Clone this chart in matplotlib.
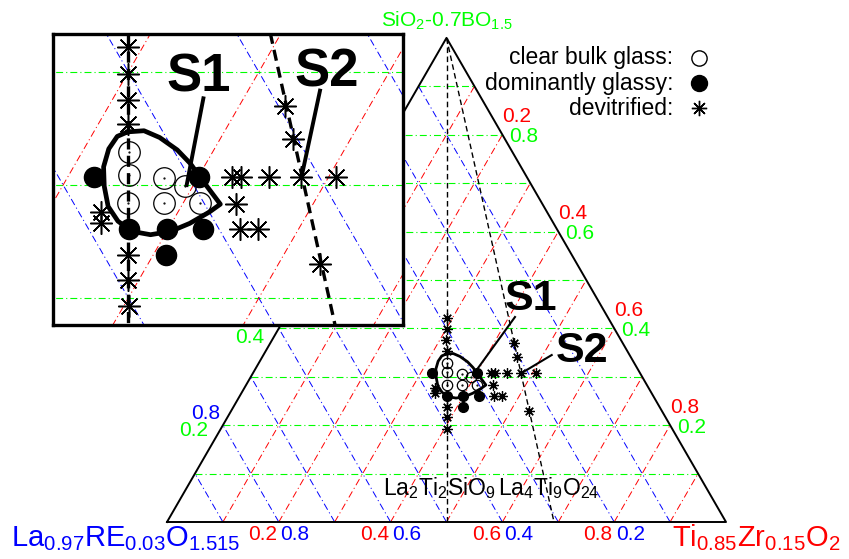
import numpy as np
import matplotlib
matplotlib.use("Agg")
import matplotlib.pyplot as plt

plt.rcParams['font.family'] = ['Liberation Sans', 'DejaVu Sans']
plt.rcParams['mathtext.fontset'] = 'custom'
plt.rcParams['mathtext.rm'] = 'Liberation Sans'
plt.rcParams['mathtext.it'] = 'Liberation Sans:italic'
plt.rcParams['mathtext.bf'] = 'Liberation Sans:bold'
plt.rcParams['mathtext.default'] = 'regular'
plt.rcParams['lines.scale_dashes'] = False

# compositions as molar fractions (Ti, Si), La = 1 - Ti - Si
clear_ti = [0.336, 0.346, 0.358, 0.374, 0.385, 0.394, 0.413]
clear_si = [0.329, 0.309, 0.284, 0.306, 0.284, 0.299, 0.284]

glassy_ti = [0.320, 0.401, 0.370, 0.399, 0.427, 0.410]
glassy_si = [0.307, 0.307, 0.261, 0.261, 0.261, 0.238]

devit_ti = [0.289, 0.301, 0.312, 0.323, 0.381, 0.392, 0.404, 0.341, 0.346,
            0.426, 0.433, 0.454, 0.479, 0.506, 0.441, 0.455, 0.469,
            0.435, 0.456, 0.532]
devit_si = [0.422, 0.398, 0.375, 0.354, 0.238, 0.216, 0.193, 0.276, 0.266,
            0.307, 0.307, 0.307, 0.307, 0.307, 0.283, 0.261, 0.261,
            0.370, 0.341, 0.230]

# boundary of the glass forming region
region_ti = [0.326, 0.338, 0.353, 0.372, 0.388, 0.406, 0.429, 0.424, 0.414, 0.403,
             0.389, 0.373, 0.358, 0.344, 0.332, 0.323, 0.319, 0.320, 0.326]
region_si = [0.347, 0.348, 0.342, 0.331, 0.319, 0.303, 0.283, 0.276, 0.266, 0.259,
             0.256, 0.259, 0.268, 0.281, 0.299, 0.316, 0.332, 0.343, 0.347]

# Ti/(La+Ti) of the two crystalline phases (joins to the SiO2 corner)
phase_ti = [0.5, 9 / 13]
grid_levels = [0.1, 0.2, 0.3, 0.4, 0.5, 0.6, 0.7, 0.8, 0.9]
tick_vals = [0.2, 0.4, 0.6, 0.8]

H = np.sqrt(3) / 2
GREEN, RED, BLUE = '#00ff00', '#ff0000', '#0000ff'
STAR = (8, 2, 0)
DASHDOT = (0, (5, 2.2, 0.8, 2.2))


def xy(ti, si):
    ti = np.asarray(ti, float)
    si = np.asarray(si, float)
    return ti + si / 2, si * H


def draw_content(a, scale, dash, curve_lw, ms_o, ms_f, ms_s, mew_s):
    for g in grid_levels:
        x, y = xy([0, 1 - g], [g, g])
        a.plot(x, y, color=GREEN, lw=0.8, ls=DASHDOT, zorder=1)
        x, y = xy([g, g], [0, 1 - g])
        a.plot(x, y, color=RED, lw=0.7, ls=DASHDOT, zorder=1)
        x, y = xy([1 - g, 0], [0, 1 - g])
        a.plot(x, y, color=BLUE, lw=0.7, ls=DASHDOT, zorder=1)
    for r in phase_ti:
        x, y = xy([0, r], [1, 0])
        a.plot(x, y, color='k', lw=1.0 * scale, ls=(0, dash), zorder=2)
    x, y = xy(region_ti, region_si)
    a.plot(x, y, color='k', lw=curve_lw, solid_joinstyle='round', zorder=3)
    x, y = xy(clear_ti, clear_si)
    a.plot(x, y, 'o', mfc='none', mec='k', ms=ms_o, mew=0.9, zorder=4)
    a.plot(x, y, '.', color='k', ms=1.2, zorder=4)
    x, y = xy(glassy_ti, glassy_si)
    a.plot(x, y, 'o', color='k', ms=ms_f, zorder=4)
    x, y = xy(devit_ti, devit_si)
    a.plot(x, y, ls='none', marker=STAR, color='k', ms=ms_s, mew=mew_s, zorder=4)


fig = plt.figure(figsize=(8.49, 5.59), dpi=100)
ax = fig.add_axes([0, 0, 1, 1])
ax.set_xlim(-167 / 559, 682 / 559)
ax.set_ylim(-37 / 559, 522 / 559)
ax.axis('off')

draw_content(ax, 1.0, (4, 2.5), 2.0, 7.5, 7.0, 7.5, 0.9)
ax.plot([0, 1, 0.5, 0], [0, 0, H, 0], color='k', lw=1.4, zorder=2)

# axis tick labels (left edge ones above 0.4 sit behind the inset)
for v in tick_vals:
    x, y = xy(0, v)
    if v <= 0.4:
        dy = -9 if v == 0.4 else -5
        ax.annotate(f'{v:.1f}', (x, y), xytext=(-15, dy), textcoords='offset pixels',
                    ha='right', va='center', color=GREEN, fontsize=15)
    if v <= 0.2:
        ax.annotate(f'{1 - v:.1f}', (x, y), xytext=(-3, 12), textcoords='offset pixels',
                    ha='right', va='center', color=BLUE, fontsize=15)
    x, y = xy(1 - v, v)
    ax.annotate(f'{v:.1f}', (x, y), xytext=(7, -2), textcoords='offset pixels',
                ha='left', va='center', color=GREEN, fontsize=15)
    ax.annotate(f'{1 - v:.1f}', (x, y), xytext=(0, 18), textcoords='offset pixels',
                ha='left', va='center', color=RED, fontsize=15)
    x, y = xy(v, 0)
    ax.annotate(f'{v:.1f}', (x, y), xytext=(-1.5, -12), textcoords='offset pixels',
                ha='right', va='center', color=RED, fontsize=15)
    ax.annotate(f'{1 - v:.1f}', (x, y), xytext=(1.5, -12), textcoords='offset pixels',
                ha='left', va='center', color=BLUE, fontsize=15)

ax.text(0.5, 0.8855, r'SiO$_2$-0.7BO$_{1.5}$', color=GREEN, fontsize=15,
        ha='center', va='baseline')
ax.text(-0.2791, -0.0429, r'La$_{0.97}$RE$_{0.03}$O$_{1.515}$', color=BLUE,
        fontsize=21, ha='left', va='baseline')
ax.text(1.2039, -0.0429, r'Ti$_{0.85}$Zr$_{0.15}$O$_2$', color=RED,
        fontsize=21, ha='right', va='baseline')
ax.text(0.3864, 0.048, r'La$_2$Ti$_2$SiO$_9$', fontsize=16.5, ha='left', va='baseline')
ax.text(0.5920, 0.048, r'La$_4$Ti$_9$O$_{24}$', fontsize=16.5, ha='left', va='baseline')

# legend
legend_rows = [('clear bulk glass:', 0.8301), ('dominantly glassy:', 0.7853),
               ('devitrified:', 0.7406)]
for label, ly in legend_rows:
    ax.text(0.9052, ly, label, fontsize=16.5, ha='right', va='center')
ax.plot(0.9517, 0.8301, 'o', mfc='none', mec='k', ms=11, mew=1.0)
ax.plot(0.9517, 0.7853, 'o', color='k', ms=11.5)
ax.plot(0.9517, 0.7406, marker=STAR, color='k', ms=11, mew=1.0)

# S1 / S2 labels
ax.text(0.6512, 0.3792, 'S1', fontsize=31, fontweight='bold', ha='center', va='baseline')
ax.text(0.7424, 0.2862, 'S2', fontsize=31, fontweight='bold', ha='center', va='baseline')
ax.plot([0.6225, 0.5474], [0.3667, 0.2630], color='k', lw=1.5, zorder=5)
ax.plot([0.6882, 0.6315], [0.2987, 0.2648], color='k', lw=1.5, zorder=5)

# zoomed inset
axi = fig.add_axes([52.7 / 849, 1 - 325 / 559, 350 / 849, 291 / 559])
axi.set_facecolor('white')
axi.set_xlim(0.442, 0.7103)
axi.set_ylim(0.1761 * H, 0.4336 * H)
axi.set_xticks([])
axi.set_yticks([])
for sp in axi.spines.values():
    sp.set_linewidth(2.4)

draw_content(axi, 2.4, (8, 4.5), 3.4, 15.5, 14.5, 16, 1.1)
axi.text(0.5536, 0.3313, 'S1', fontsize=38, fontweight='bold', ha='center', va='baseline')
axi.text(0.6520, 0.3352, 'S2', fontsize=38, fontweight='bold', ha='center', va='baseline')
axi.plot([0.5575, 0.5447], [0.3262, 0.2598], color='k', lw=2.8, zorder=5)
axi.plot([0.6469, 0.6328], [0.3321, 0.2662], color='k', lw=2.8, zorder=5)

fig.savefig('out.png', dpi=100)
